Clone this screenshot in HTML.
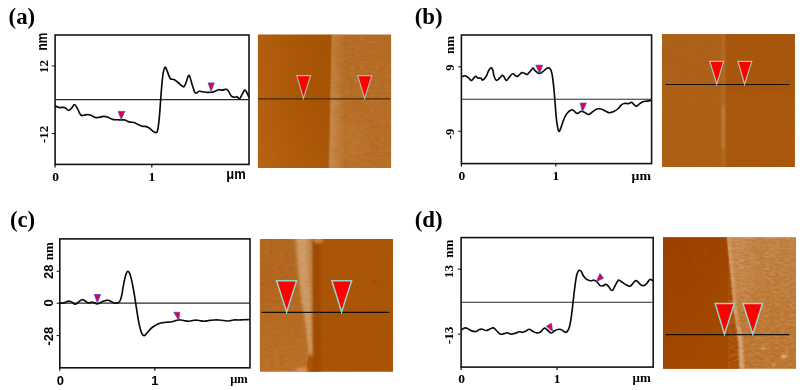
<!DOCTYPE html>
<html lang="en"><head><meta charset="utf-8"><title>AFM height profiles</title>
<style>
html,body{margin:0;padding:0;background:#fff;}
body{width:804px;height:390px;overflow:hidden;}
svg{display:block;}
</style></head><body>
<svg width="804" height="390" viewBox="0 0 804 390">
<defs>
<linearGradient id="aL" x1="0" y1="0" x2="1" y2="0"><stop offset="0" stop-color="#b56112"/><stop offset="0.5" stop-color="#ac5808"/><stop offset="1" stop-color="#a65204"/></linearGradient>
<linearGradient id="aV" x1="0" y1="0" x2="0" y2="1"><stop offset="0" stop-color="#8a4000" stop-opacity="0.06"/><stop offset="0.5" stop-color="#c87820" stop-opacity="0"/><stop offset="1" stop-color="#d08a30" stop-opacity="0.13"/></linearGradient>
<linearGradient id="aR" x1="0" y1="0" x2="0" y2="1"><stop offset="0" stop-color="#b46a22"/><stop offset="1" stop-color="#b86e27"/></linearGradient>
<linearGradient id="aE" x1="0" y1="0" x2="1" y2="0"><stop offset="0" stop-color="#d09a62" stop-opacity="0.85"/><stop offset="0.35" stop-color="#cb9058" stop-opacity="0.65"/><stop offset="1" stop-color="#c88a50" stop-opacity="0"/></linearGradient>
<linearGradient id="bL" x1="0" y1="0" x2="0" y2="1"><stop offset="0" stop-color="#ae611a"/><stop offset="1" stop-color="#af6015"/></linearGradient>
<linearGradient id="bR" x1="0" y1="0" x2="0" y2="1"><stop offset="0" stop-color="#a7560a"/><stop offset="1" stop-color="#ab5a10"/></linearGradient>
<linearGradient id="cL" x1="0" y1="0" x2="0" y2="1"><stop offset="0" stop-color="#b26620"/><stop offset="0.35" stop-color="#b3641c"/><stop offset="1" stop-color="#bb7029"/></linearGradient>
<linearGradient id="cR" x1="0" y1="0" x2="0" y2="1"><stop offset="0" stop-color="#ab5609"/><stop offset="1" stop-color="#aa5305"/></linearGradient>
<linearGradient id="cS" x1="0" y1="0" x2="1" y2="0"><stop offset="0" stop-color="#e0b27e" stop-opacity="0"/><stop offset="0.45" stop-color="#e0b27e" stop-opacity="0.85"/><stop offset="0.8" stop-color="#d8a36a" stop-opacity="0.8"/><stop offset="1" stop-color="#b05e18" stop-opacity="1"/></linearGradient>
<linearGradient id="dL" x1="0" y1="0" x2="0.7" y2="1"><stop offset="0" stop-color="#9b3e02"/><stop offset="1" stop-color="#a54a05"/></linearGradient>
<linearGradient id="dR" x1="0" y1="0" x2="0" y2="1"><stop offset="0" stop-color="#c08041"/><stop offset="0.5" stop-color="#bd7836"/><stop offset="1" stop-color="#bb712c"/></linearGradient>
<filter id="bl05" x="-10%" y="-10%" width="120%" height="120%"><feGaussianBlur stdDeviation="0.6"/></filter>
<filter id="bl1" x="-50%" y="-50%" width="200%" height="200%"><feGaussianBlur stdDeviation="0.8"/></filter>
<filter id="bl15" x="-50%" y="-50%" width="200%" height="200%"><feGaussianBlur stdDeviation="1.2"/></filter>
<filter id="bl2" x="-50%" y="-50%" width="200%" height="200%"><feGaussianBlur stdDeviation="1.7"/></filter>
<filter id="bl3" x="-50%" y="-50%" width="200%" height="200%"><feGaussianBlur stdDeviation="6"/></filter>
<filter id="grain" x="0" y="0" width="100%" height="100%"><feTurbulence type="fractalNoise" baseFrequency="0.2 0.5" numOctaves="2" seed="7" result="n"/><feColorMatrix in="n" type="matrix" values="0 0 0 0 1  0 0 0 0 0.85  0 0 0 0 0.6  0.9 0.9 0 0 -0.72"/></filter>
<filter id="grain2" x="0" y="0" width="100%" height="100%"><feTurbulence type="fractalNoise" baseFrequency="0.1 0.3" numOctaves="2" seed="3" result="n"/><feColorMatrix in="n" type="matrix" values="0 0 0 0 0.35  0 0 0 0 0.12  0 0 0 0 0  -0.9 -0.9 0 0 1.02"/></filter>
<clipPath id="clipA"><rect x="257.9" y="34.4" width="133.2" height="133.5"/></clipPath>
<clipPath id="clipB"><rect x="662" y="34.1" width="132.8" height="132.8"/></clipPath>
<clipPath id="clipC"><rect x="259.9" y="239.1" width="133.1" height="132.7"/></clipPath>
<clipPath id="clipD"><rect x="663" y="237.2" width="133" height="131.5"/></clipPath>
</defs>
<rect width="804" height="390" fill="#fff"/>

<g id="panel-a">
<text x="8.6" y="23.9" font-family="Liberation Serif, serif" font-weight="bold" font-size="22.8">(a)</text>
<rect x="55.1" y="35" width="193.9" height="129.4" fill="#fff" stroke="#141414" stroke-width="1.6"/><line x1="55.1" y1="99.6" x2="249.0" y2="99.6" stroke="#2a2a2a" stroke-width="1.15"/><line x1="51.9" y1="66" x2="55.1" y2="66" stroke="#111" stroke-width="1"/><line x1="51.9" y1="133.6" x2="55.1" y2="133.6" stroke="#111" stroke-width="1"/><line x1="55.1" y1="164.4" x2="55.1" y2="167.4" stroke="#111" stroke-width="1.2"/><line x1="151.8" y1="164.4" x2="151.8" y2="167.4" stroke="#111" stroke-width="1.2"/>
<path d="M55.7,106.1C56.5,106.4 57.3,107.2 59.2,107.5C61.1,107.8 62.3,106.9 64.3,107.5C66.3,108.1 66.8,110.0 68.4,110.2C70.0,110.4 70.1,109.4 71.5,108.2C72.9,107.0 73.2,104.5 74.6,104.7C76.0,104.9 76.4,107.0 77.7,109.2C79.0,111.4 79.4,113.6 80.7,114.9C82.0,116.2 82.2,115.4 83.8,115.3C85.4,115.2 86.3,114.5 87.9,114.5C89.5,114.5 89.4,114.7 91.0,115.3C92.6,115.9 93.3,116.9 95.1,117.4C96.9,117.9 97.4,117.6 99.2,117.4C101.0,117.2 101.5,116.5 103.3,116.4C105.1,116.3 105.4,116.3 107.4,117.0C109.4,117.7 110.3,118.8 112.5,119.4C114.7,120.0 115.8,119.7 117.6,119.8C119.4,119.9 119.1,120.0 120.7,120.0C122.3,120.0 123.0,119.6 124.8,120.0C126.6,120.4 126.9,121.4 128.9,121.9C130.9,122.5 132.0,121.9 134.0,122.5C136.0,123.1 136.3,123.7 138.1,124.5C139.9,125.3 140.4,125.7 142.2,126.2C144.0,126.7 144.6,126.1 146.3,126.6C148.0,127.1 148.7,127.7 150.0,128.6C151.3,129.5 151.0,129.7 152.3,130.6C153.6,131.5 154.8,132.8 156.0,132.6C157.2,132.4 157.0,132.9 157.7,129.9C158.4,126.9 158.5,125.6 159.2,118.8C159.9,112.0 160.1,107.3 160.7,99.2C161.3,91.1 161.5,88.2 162.1,82.0C162.7,75.8 162.9,74.2 163.6,70.9C164.3,67.6 164.4,67.5 165.1,67.2C165.8,66.9 165.7,67.8 166.6,69.7C167.5,71.6 168.1,73.8 169.0,75.8C169.9,77.8 169.6,78.2 170.7,79.0C171.8,79.8 172.3,78.7 173.9,79.5C175.5,80.3 176.4,81.1 178.1,82.5C179.8,83.9 180.4,84.8 181.8,85.7C183.2,86.6 183.2,87.5 184.3,86.4C185.4,85.3 185.8,83.0 186.7,80.7C187.6,78.4 187.7,76.6 188.4,75.8C189.1,75.0 189.1,75.1 189.9,77.0C190.7,78.9 191.1,81.1 192.1,84.4C193.1,87.7 193.6,89.9 194.6,91.8C195.6,93.7 195.6,93.1 196.6,93.0C197.6,92.9 197.7,91.6 199.0,91.3C200.3,91.0 201.1,91.6 202.7,91.8C204.3,92.0 204.5,92.2 206.4,92.3C208.3,92.4 209.4,92.5 211.3,92.3C213.2,92.1 213.4,91.8 215.0,91.3C216.6,90.8 217.1,90.1 218.7,89.8C220.3,89.5 220.8,90.2 222.4,90.1C224.0,90.0 224.8,89.0 226.1,89.3C227.4,89.6 227.3,89.8 228.5,91.3C229.7,92.8 230.1,94.9 231.5,96.2C232.9,97.5 233.5,97.1 234.7,97.2C235.9,97.3 236.0,96.4 237.1,96.7C238.2,97.0 238.5,99.2 239.6,98.7C240.7,98.2 241.0,96.2 242.1,94.3C243.2,92.4 243.7,90.4 244.8,90.1C245.9,89.8 246.1,91.5 247.0,93.0C247.9,94.5 248.3,95.9 248.7,96.7" fill="none" stroke="#0a0a0a" stroke-width="1.65" stroke-linejoin="round" stroke-linecap="round"/>
<polygon points="118.2,111.4 124.8,111.4 121.2,119.4" fill="#f00018" stroke="#4444f4" stroke-width="0.8" stroke-linejoin="round"/>
<polygon points="208.1,82.9 214.3,82.9 211.1,91.2" fill="#f00018" stroke="#4444f4" stroke-width="0.8" stroke-linejoin="round"/>
<text transform="translate(48,66.6) rotate(-90)" text-anchor="middle" font-family="Liberation Serif, serif" font-weight="bold" font-size="13" >12</text>
<text transform="translate(48,134.3) rotate(-90)" text-anchor="middle" font-family="Liberation Serif, serif" font-weight="bold" font-size="13" >-12</text>
<text transform="translate(47.1,41.6) rotate(-90)" text-anchor="middle" font-family="Liberation Sans, sans-serif" font-weight="bold" font-size="14.5" textLength="17.7" lengthAdjust="spacingAndGlyphs">nm</text>
<text x="55.5" y="181.1" text-anchor="middle" font-family="Liberation Serif, serif" font-weight="bold" font-size="13.5">0</text>
<text x="151.8" y="181.1" text-anchor="middle" font-family="Liberation Serif, serif" font-weight="bold" font-size="13.5">1</text>
<text x="226.3" y="179.2" font-family="Liberation Sans, sans-serif" font-weight="bold" font-size="14" textLength="19.4" lengthAdjust="spacingAndGlyphs">μm</text>
<g clip-path="url(#clipA)">
<rect x="255" y="30" width="77" height="142" fill="url(#aL)"/>
<rect x="255" y="30" width="77" height="142" fill="url(#aV)"/>
<polygon points="331.7,30 395,30 395,172 328.9,172" fill="url(#aR)"/>
<polygon points="331.9,30 346,30 343.5,172 329.2,172" fill="url(#aE)" opacity="0.65" filter="url(#bl1)"/>
<polygon points="330.8,92 346,92 343.5,172 329.2,172" fill="url(#aE)" opacity="0.5" filter="url(#bl1)"/>
<rect x="331" y="34" width="61" height="135" filter="url(#grain)" opacity="0.14"/>
<rect x="257" y="34" width="135" height="135" filter="url(#grain2)" opacity="0.3"/>
<ellipse cx="352" cy="140" rx="14" ry="22" fill="#c98642" opacity="0.25" filter="url(#bl3)"/>
</g>
<line x1="258" y1="98.9" x2="390.5" y2="98.9" stroke="#4a2a0c" stroke-width="1.1"/>
<polygon points="296.8,75.7 310.6,75.7 303.4,98.5" fill="#fe0000" stroke="#a9b9aa" stroke-width="1.2" stroke-linejoin="miter"/>
<polygon points="357.7,75.7 371.8,75.7 364.6,98.5" fill="#fe0000" stroke="#a9b9aa" stroke-width="1.2" stroke-linejoin="miter"/>
</g>
<g id="panel-b">
<text x="414.7" y="24" font-family="Liberation Serif, serif" font-weight="bold" font-size="22.8">(b)</text>
<rect x="461.4" y="35" width="190.20000000000005" height="128.6" fill="#fff" stroke="#141414" stroke-width="1.6"/><line x1="461.4" y1="99.2" x2="651.6" y2="99.2" stroke="#2a2a2a" stroke-width="1.15"/><line x1="458.2" y1="66.8" x2="461.4" y2="66.8" stroke="#111" stroke-width="1"/><line x1="458.2" y1="131.2" x2="461.4" y2="131.2" stroke="#111" stroke-width="1"/><line x1="461.4" y1="163.6" x2="461.4" y2="166.6" stroke="#111" stroke-width="1.2"/><line x1="555.8" y1="163.6" x2="555.8" y2="166.6" stroke="#111" stroke-width="1.2"/>
<path d="M462.6,76.5C463.2,76.3 464.0,75.4 465.4,75.8C466.8,76.2 467.4,77.1 468.8,78.1C470.2,79.1 470.2,80.8 471.6,80.4C473.0,80.0 473.9,77.0 475.3,76.5C476.7,76.0 476.9,77.7 478.1,78.1C479.3,78.5 479.8,77.7 480.8,78.1C481.8,78.5 481.5,80.4 482.7,80.0C483.9,79.6 484.8,78.4 486.1,76.5C487.4,74.6 487.4,73.1 488.4,71.2C489.4,69.3 489.8,68.4 490.7,68.0C491.6,67.6 491.8,67.7 492.6,69.6C493.4,71.5 493.3,74.1 494.2,76.5C495.1,78.9 495.2,80.1 496.5,80.4C497.8,80.7 498.6,78.8 500.0,77.7C501.4,76.6 501.6,74.8 503.0,75.4C504.4,76.0 504.8,80.0 506.2,80.4C507.6,80.8 507.8,78.7 509.2,77.2C510.6,75.7 511.2,74.0 512.7,73.8C514.2,73.6 514.8,75.7 516.1,76.1C517.4,76.5 517.1,76.6 518.4,75.8C519.7,75.0 520.4,73.0 521.9,72.6C523.4,72.2 524.0,73.4 525.3,73.8C526.6,74.2 526.3,75.0 527.6,74.2C528.9,73.4 529.9,71.7 531.1,70.3C532.3,68.9 532.1,67.9 533.0,68.0C533.9,68.1 533.9,69.6 535.3,70.8C536.7,72.0 537.6,73.3 539.2,73.5C540.8,73.7 541.1,72.9 542.6,71.9C544.1,70.9 544.8,69.8 546.1,68.9C547.4,68.0 547.4,67.6 548.4,67.8C549.4,68.0 549.8,67.9 550.7,69.6C551.6,71.3 551.6,71.6 552.3,75.6C553.0,79.6 553.2,82.0 553.8,88.0C554.4,94.0 554.6,96.6 555.1,103.0C555.6,109.4 555.7,111.9 556.2,117.0C556.7,122.1 556.8,123.0 557.4,126.1C558.0,129.2 558.1,130.6 558.8,131.2C559.5,131.8 559.7,130.6 560.6,128.6C561.5,126.6 561.8,124.7 562.8,122.0C563.8,119.3 564.1,118.4 565.2,116.4C566.3,114.4 566.4,114.1 567.6,112.7C568.8,111.3 569.5,110.8 570.8,110.2C572.1,109.7 571.9,109.5 573.3,110.2C574.7,110.9 575.4,113.1 577.0,113.4C578.6,113.7 579.1,111.8 580.7,111.5C582.3,111.2 582.5,111.6 584.3,112.2C586.1,112.8 586.9,114.6 588.8,114.4C590.7,114.2 591.1,112.7 592.9,111.5C594.7,110.3 595.3,109.5 597.1,109.0C598.9,108.5 599.3,108.6 601.1,109.0C602.9,109.4 603.4,110.2 605.2,111.0C607.0,111.8 607.5,112.6 609.4,112.7C611.3,112.8 611.8,112.4 613.8,111.5C615.8,110.6 616.6,110.0 618.3,108.5C620.0,107.0 620.2,105.7 621.7,104.6C623.2,103.5 623.4,103.6 624.9,103.4C626.4,103.2 627.1,103.8 628.6,103.6C630.1,103.4 630.4,102.2 631.6,102.4C632.8,102.6 632.9,103.8 634.0,104.6C635.1,105.4 635.4,106.3 636.7,106.1C638.0,105.9 638.2,104.6 639.7,103.6C641.2,102.6 641.8,102.1 643.4,101.6C645.0,101.0 645.4,101.4 647.0,101.1C648.6,100.8 649.9,100.6 650.7,100.4" fill="none" stroke="#0a0a0a" stroke-width="1.65" stroke-linejoin="round" stroke-linecap="round"/>
<polygon points="535.9,65.2 542.6,65.2 539.6,73.2" fill="#f00018" stroke="#4444f4" stroke-width="0.8" stroke-linejoin="round"/>
<polygon points="580.2,103.1 586.3,103.1 582.5,111.4" fill="#f00018" stroke="#4444f4" stroke-width="0.8" stroke-linejoin="round"/>
<text transform="translate(454,67.5) rotate(-90)" text-anchor="middle" font-family="Liberation Serif, serif" font-weight="bold" font-size="12.5" >9</text>
<text transform="translate(454,134) rotate(-90)" text-anchor="middle" font-family="Liberation Serif, serif" font-weight="bold" font-size="12.5" >-9</text>
<text transform="translate(453.7,45) rotate(-90)" text-anchor="middle" font-family="Liberation Serif, serif" font-weight="bold" font-size="13" >nm</text>
<text x="461.8" y="180.2" text-anchor="middle" font-family="Liberation Serif, serif" font-weight="bold" font-size="13.5">0</text>
<text x="555.8" y="180.2" text-anchor="middle" font-family="Liberation Serif, serif" font-weight="bold" font-size="13.5">1</text>
<text x="631.6" y="180" font-family="Liberation Serif, serif" font-weight="bold" font-size="13" textLength="19.4" lengthAdjust="spacingAndGlyphs">μm</text>
<g clip-path="url(#clipB)">
<rect x="660" y="30" width="140" height="142" fill="url(#bL)"/>
<rect x="725.2" y="20" width="85" height="160" fill="url(#bR)" filter="url(#bl1)"/>
<rect x="721.6" y="30" width="3.4" height="142" fill="#c98b52" opacity="0.3" filter="url(#bl1)"/>
<rect x="661" y="33" width="135" height="135" filter="url(#grain2)" opacity="0.25"/>
<rect x="722" y="106" width="2.4" height="42" fill="#d8a26c" opacity="0.38" filter="url(#bl1)"/>
</g>
<line x1="665.5" y1="84.5" x2="789.4" y2="84.5" stroke="#1a0f05" stroke-width="1.1"/>
<polygon points="709.8,61.4 723.6,61.4 716.8,84.2" fill="#fe0000" stroke="#b2c2b4" stroke-width="1.2" stroke-linejoin="miter"/>
<polygon points="737.9,61.4 751.8,61.4 744.6,84.2" fill="#fe0000" stroke="#b2c2b4" stroke-width="1.2" stroke-linejoin="miter"/>
</g>
<g id="panel-c">
<text x="9.9" y="227.1" font-family="Liberation Serif, serif" font-weight="bold" font-size="22.8">(c)</text>
<rect x="59.8" y="238.9" width="190.2" height="128.9" fill="#fff" stroke="#141414" stroke-width="1.6"/><line x1="59.8" y1="303.1" x2="250.0" y2="303.1" stroke="#2a2a2a" stroke-width="1.15"/><line x1="56.599999999999994" y1="271.3" x2="59.8" y2="271.3" stroke="#111" stroke-width="1"/><line x1="56.599999999999994" y1="303.2" x2="59.8" y2="303.2" stroke="#111" stroke-width="1"/><line x1="56.599999999999994" y1="335.6" x2="59.8" y2="335.6" stroke="#111" stroke-width="1"/><line x1="59.8" y1="367.8" x2="59.8" y2="370.8" stroke="#111" stroke-width="1.2"/><line x1="154.9" y1="367.8" x2="154.9" y2="370.8" stroke="#111" stroke-width="1.2"/>
<path d="M60.3,303.3C61.3,303.1 63.0,303.1 64.8,302.6C66.6,302.1 67.0,301.2 68.5,301.1C70.0,301.0 70.2,301.4 71.7,302.1C73.2,302.8 73.7,304.1 75.2,304.1C76.7,304.1 76.9,303.1 78.4,302.1C79.9,301.1 80.5,300.0 82.0,299.7C83.5,299.4 83.6,300.2 85.0,300.9C86.4,301.6 86.7,302.6 88.2,302.9C89.7,303.2 90.6,302.1 91.9,302.1C93.2,302.1 93.1,302.5 94.3,302.9C95.5,303.3 95.9,303.9 97.3,303.8C98.7,303.7 99.0,303.2 100.5,302.6C102.0,302.0 102.6,301.4 104.2,300.9C105.8,300.4 106.4,300.1 107.9,300.2C109.4,300.3 109.8,300.8 111.1,301.4C112.4,302.0 112.5,302.6 114.0,302.9C115.5,303.2 116.3,303.4 117.7,302.9C119.1,302.4 119.3,302.4 120.2,300.5C121.1,298.6 121.1,298.1 121.9,294.3C122.7,290.5 122.9,287.6 123.8,283.3C124.7,279.0 125.0,277.3 125.8,274.7C126.6,272.1 126.7,271.9 127.5,271.5C128.3,271.1 128.5,271.2 129.3,272.7C130.1,274.2 130.3,275.0 131.2,278.4C132.1,281.8 132.4,283.9 133.2,288.2C134.0,292.5 134.2,293.4 134.9,298.0C135.6,302.6 135.8,304.0 136.6,309.1C137.4,314.2 137.7,316.8 138.6,321.4C139.5,326.0 139.8,327.2 140.6,330.0C141.4,332.8 141.6,332.9 142.3,334.2C143.0,335.5 143.2,335.7 144.0,335.7C144.8,335.7 145.0,335.2 146.0,334.2C147.0,333.2 147.1,332.7 148.4,331.2C149.7,329.7 150.5,328.8 152.1,327.5C153.7,326.2 154.2,326.0 155.8,325.1C157.4,324.2 157.9,323.9 159.5,323.4C161.1,322.8 161.3,322.9 163.2,322.6C165.1,322.3 166.2,322.3 168.1,322.1C170.0,321.9 170.1,322.1 172.0,321.7C173.9,321.3 175.0,320.6 176.9,320.2C178.8,319.8 179.0,319.9 180.6,320.0C182.2,320.1 182.4,320.4 184.3,320.7C186.2,321.0 187.0,321.3 189.2,321.2C191.4,321.1 191.9,320.4 194.1,320.2C196.3,320.0 196.8,320.3 199.0,320.5C201.2,320.7 201.7,321.2 203.9,321.2C206.1,321.2 206.6,320.8 208.8,320.5C211.0,320.2 211.6,320.1 213.8,320.0C216.0,319.9 216.5,319.9 218.7,320.0C220.9,320.1 221.4,320.3 223.6,320.5C225.8,320.7 226.3,321.1 228.5,321.0C230.7,320.9 231.2,320.2 233.4,320.0C235.6,319.8 236.2,320.0 238.4,320.0C240.6,320.0 240.9,319.9 243.3,319.8C245.7,319.7 248.1,319.6 249.4,319.5" fill="none" stroke="#0a0a0a" stroke-width="1.65" stroke-linejoin="round" stroke-linecap="round"/>
<polygon points="94.3,294.5 100.7,294.5 97.3,302.4" fill="#f00018" stroke="#4444f4" stroke-width="0.8" stroke-linejoin="round"/>
<polygon points="173.9,312.3 179.8,312.3 178.6,320.2" fill="#f00018" stroke="#4444f4" stroke-width="0.8" stroke-linejoin="round"/>
<text transform="translate(53,271.8) rotate(-90)" text-anchor="middle" font-family="Liberation Sans, sans-serif" font-weight="bold" font-size="13" >28</text>
<text transform="translate(53,302.8) rotate(-90)" text-anchor="middle" font-family="Liberation Sans, sans-serif" font-weight="bold" font-size="13" >0</text>
<text transform="translate(53,336.2) rotate(-90)" text-anchor="middle" font-family="Liberation Sans, sans-serif" font-weight="bold" font-size="13" >-28</text>
<text transform="translate(52.6,251.3) rotate(-90)" text-anchor="middle" font-family="Liberation Serif, serif" font-weight="bold" font-size="13" >nm</text>
<text x="60.3" y="384.6" text-anchor="middle" font-family="Liberation Sans, sans-serif" font-weight="bold" font-size="13">0</text>
<text x="154.9" y="384.6" text-anchor="middle" font-family="Liberation Sans, sans-serif" font-weight="bold" font-size="13">1</text>
<text x="230.2" y="383" font-family="Liberation Serif, serif" font-weight="bold" font-size="13" textLength="17.6" lengthAdjust="spacingAndGlyphs">μm</text>
<g clip-path="url(#clipC)">
<rect x="256" y="235" width="60" height="141" fill="url(#cL)"/>
<polygon points="312.4,235 398,235 398,376 306,376 306.5,370 308,358 311,345 312.6,330" fill="url(#cR)"/>
<rect x="312" y="235" width="8.5" height="141" fill="#9c4602" opacity="0.75" filter="url(#bl2)"/>
<polygon points="294.4,235 311.4,235 312.6,356 309,356 306.6,334 303.4,312 301.4,303 297.6,273" fill="#c58c52" opacity="1" filter="url(#bl2)"/>
<polygon points="297,235 306,235 307.6,273 309.4,303 310.2,312 311.2,334 311.8,352 309.8,354 307.4,334 304.6,312 302.8,303 299.4,273" fill="#d2a06c" opacity="0.75" filter="url(#bl15)"/>
<rect x="259" y="239" width="135" height="134" filter="url(#grain2)" opacity="0.3"/>
<rect x="259" y="239" width="54" height="134" filter="url(#grain)" opacity="0.12"/>
<ellipse cx="318" cy="240" rx="5" ry="3.5" fill="#d9a772" opacity="0.6" filter="url(#bl1)"/>
<ellipse cx="302" cy="369.8" rx="6.5" ry="2.6" fill="#d9a772" opacity="0.6" filter="url(#bl1)"/>
<ellipse cx="374" cy="282" rx="3.5" ry="1.6" fill="#8f4503" opacity="0.5" filter="url(#bl1)"/>
</g>
<line x1="261.5" y1="312.4" x2="389.2" y2="312.4" stroke="#1a0f05" stroke-width="1.1"/>
<polygon points="276.6,280.8 296.6,280.8 286.6,312.0" fill="#fe0000" stroke="#96d4cb" stroke-width="1.5" stroke-linejoin="miter"/>
<polygon points="331.9,280.8 351.6,280.8 341.6,312.0" fill="#fe0000" stroke="#96d4cb" stroke-width="1.5" stroke-linejoin="miter"/>
</g>
<g id="panel-d">
<text x="414.7" y="227.1" font-family="Liberation Serif, serif" font-weight="bold" font-size="22.8">(d)</text>
<rect x="461.1" y="237.6" width="192.10000000000002" height="129.50000000000003" fill="#fff" stroke="#141414" stroke-width="1.6"/><line x1="461.1" y1="302.2" x2="653.2" y2="302.2" stroke="#2a2a2a" stroke-width="1.15"/><line x1="457.90000000000003" y1="269.2" x2="461.1" y2="269.2" stroke="#111" stroke-width="1"/><line x1="457.90000000000003" y1="334.1" x2="461.1" y2="334.1" stroke="#111" stroke-width="1"/><line x1="461.1" y1="367.1" x2="461.1" y2="370.1" stroke="#111" stroke-width="1.2"/><line x1="557" y1="367.1" x2="557" y2="370.1" stroke="#111" stroke-width="1.2"/>
<path d="M461.8,329.7C462.5,329.3 463.6,328.0 465.1,327.9C466.6,327.8 467.2,328.5 468.7,329.2C470.2,329.9 470.5,330.5 472.1,331.0C473.7,331.5 474.4,331.8 475.9,331.5C477.4,331.2 477.6,330.2 479.0,329.7C480.4,329.2 480.7,329.0 482.3,329.2C483.9,329.4 484.5,330.5 486.2,330.5C487.9,330.5 488.4,329.6 490.0,329.0C491.6,328.4 491.9,327.6 493.3,327.9C494.7,328.2 494.9,329.1 496.4,330.5C497.9,331.9 498.6,333.4 500.3,334.1C502.0,334.8 502.6,333.9 504.1,333.6C505.6,333.3 505.6,332.7 507.2,332.8C508.8,332.9 509.5,334.0 511.3,334.1C513.1,334.2 513.9,333.6 515.6,333.1C517.3,332.6 517.5,332.0 519.0,331.8C520.5,331.6 521.1,332.5 522.6,332.3C524.1,332.1 524.4,331.7 525.9,331.0C527.4,330.3 527.8,329.2 529.2,329.2C530.6,329.2 530.8,330.2 532.3,331.0C533.8,331.8 534.5,332.5 536.2,332.8C537.9,333.1 538.2,333.3 540.0,332.3C541.8,331.3 542.6,328.7 544.2,328.2C545.8,327.7 545.9,328.9 547.4,330.0C548.9,331.1 549.5,332.9 551.2,333.0C552.9,333.1 553.2,331.3 555.0,330.5C556.8,329.7 558.1,329.4 559.6,329.3C561.1,329.2 560.5,329.4 561.9,330.1C563.3,330.8 564.3,332.6 565.8,332.4C567.3,332.2 567.5,331.3 568.5,329.3C569.5,327.3 569.5,326.8 570.2,323.5C570.9,320.2 571.0,319.1 571.6,314.5C572.2,309.9 572.4,308.1 573.0,302.8C573.6,297.5 573.7,295.9 574.4,290.5C575.1,285.1 575.4,282.2 576.1,278.2C576.8,274.2 576.9,274.2 577.6,272.5C578.3,270.8 578.5,270.5 579.3,270.3C580.1,270.1 580.3,270.2 581.3,271.6C582.3,273.0 582.6,274.8 583.8,276.5C585.0,278.2 585.2,278.5 586.7,279.4C588.2,280.3 588.8,280.5 590.4,280.7C592.0,280.9 592.6,279.9 594.1,280.2C595.6,280.5 595.7,280.7 597.0,281.9C598.3,283.1 598.8,284.8 600.2,285.6C601.6,286.4 602.1,285.9 603.4,285.6C604.7,285.3 604.7,284.0 605.9,284.3C607.1,284.6 607.5,285.4 608.8,286.8C610.1,288.2 610.7,290.5 612.0,290.5C613.3,290.5 613.3,288.8 614.5,286.8C615.7,284.8 616.5,282.9 617.5,281.4C618.5,279.9 618.1,280.0 619.2,280.2C620.3,280.4 620.9,281.4 622.4,282.4C623.9,283.4 624.5,283.9 626.1,284.8C627.7,285.7 628.5,286.4 629.8,286.3C631.1,286.2 631.0,285.5 632.2,284.3C633.4,283.1 634.1,281.2 635.4,280.7C636.7,280.2 636.7,281.0 637.9,281.9C639.1,282.8 639.5,284.0 640.8,284.8C642.1,285.6 642.4,286.0 643.8,285.6C645.2,285.2 645.7,284.5 647.0,283.1C648.3,281.7 648.7,279.9 649.9,279.4C651.1,278.9 652.0,280.4 652.6,280.7" fill="none" stroke="#0a0a0a" stroke-width="1.65" stroke-linejoin="round" stroke-linecap="round"/>
<polygon points="546.4,326.2 551.5,323.2 552.5,331.2" fill="#f00018" stroke="#4444f4" stroke-width="0.8" stroke-linejoin="round"/>
<polygon points="600.0,273.5 603.5,278.2 596.4,281.6" fill="#f00018" stroke="#4444f4" stroke-width="0.8" stroke-linejoin="round"/>
<text transform="translate(453.3,271.6) rotate(-90)" text-anchor="middle" font-family="Liberation Serif, serif" font-weight="bold" font-size="13" >13</text>
<text transform="translate(453.3,335.4) rotate(-90)" text-anchor="middle" font-family="Liberation Serif, serif" font-weight="bold" font-size="13.3" >-13</text>
<text transform="translate(453.3,248.7) rotate(-90)" text-anchor="middle" font-family="Liberation Serif, serif" font-weight="bold" font-size="13" >nm</text>
<text x="461.6" y="383.4" text-anchor="middle" font-family="Liberation Serif, serif" font-weight="bold" font-size="13.5">0</text>
<text x="557" y="383.4" text-anchor="middle" font-family="Liberation Serif, serif" font-weight="bold" font-size="13.5">1</text>
<text x="632.6" y="381.6" font-family="Liberation Serif, serif" font-weight="bold" font-size="13" textLength="18.2" lengthAdjust="spacingAndGlyphs">μm</text>
<g clip-path="url(#clipD)">
<rect x="660" y="233" width="140" height="140" fill="url(#dR)"/>
<polygon points="726,230 748,230 752,300 733,300" fill="#dba878" opacity="0.22" filter="url(#bl3)"/>
<polygon points="660,233 726.4,233 726.8,237 728.6,255 730.6,275 732,290 733.6,310 736.8,330 738.4,342 739.6,373 660,373" fill="url(#dL)" filter="url(#bl05)"/>
<polyline points="728.4,233 728.8,237 730.6,255 732.6,275 734,290 735.6,310 738.6,330 740.2,342 741.4,373" fill="none" stroke="#d6a474" stroke-width="3.6" opacity="0.7" filter="url(#bl1)"/>
<polyline points="739.4,328 741.2,345 742.8,373" fill="none" stroke="#e2b488" stroke-width="3.5" opacity="0.6" filter="url(#bl1)"/>
<rect x="728" y="236" width="69" height="134" filter="url(#grain)" opacity="0.3"/>
<rect x="663" y="236" width="134" height="134" filter="url(#grain2)" opacity="0.35"/>
<ellipse cx="783.8" cy="356.5" rx="2.8" ry="1.8" fill="#ecd0a8" opacity="0.8" filter="url(#bl1)"/>
<circle cx="773.6" cy="364.7" r="1.4" fill="#ecd0a8" opacity="0.7" filter="url(#bl1)"/>
<circle cx="763.6" cy="348.4" r="1.5" fill="#ecd0a8" opacity="0.6" filter="url(#bl1)"/>
<circle cx="735.7" cy="311.5" r="1.6" fill="#ecd0a8" opacity="0.6" filter="url(#bl1)"/>
</g>
<line x1="665.5" y1="334.6" x2="789.4" y2="334.6" stroke="#1a0f05" stroke-width="1.1"/>
<polygon points="715.2,303.6 734.4,303.6 724.5,334.2" fill="#fe0000" stroke="#96d4cb" stroke-width="1.5" stroke-linejoin="miter"/>
<polygon points="742.9,303.6 762.4,303.6 752.8,334.2" fill="#fe0000" stroke="#96d4cb" stroke-width="1.5" stroke-linejoin="miter"/>
</g>
</svg></body></html>
